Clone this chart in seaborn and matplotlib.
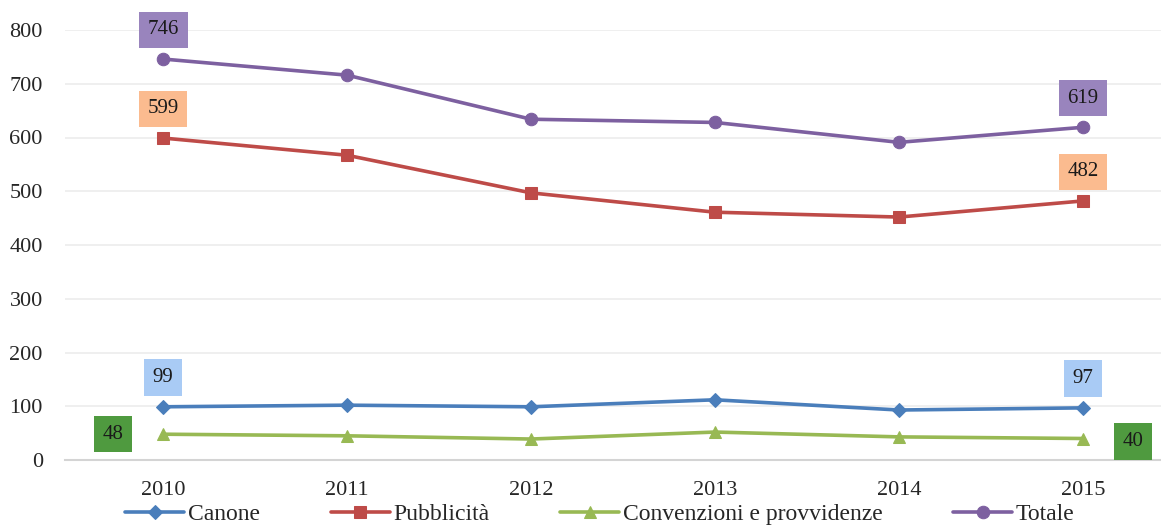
import matplotlib
matplotlib.use("Agg")
import matplotlib.pyplot as plt
import seaborn as sns
import pandas as pd

years = [2010, 2011, 2012, 2013, 2014, 2015]
canone = [99, 102, 99, 112, 93, 97]
pubblicita = [599, 567, 497, 461, 452, 482]
convenzioni = [48, 45, 39, 52, 43, 40]
totale = [746, 716, 634, 628, 591, 619]
series_names = ["Canone", "Pubblicità", "Convenzioni e provvidenze", "Totale"]

sns.set_style("white")
plt.rcParams["font.family"] = ["Liberation Serif", "DejaVu Serif"]

df = pd.DataFrame({"anno": years * 4,
                   "valore": canone + pubblicita + convenzioni + totale,
                   "serie": [s for s in series_names for _ in years]})

colors = ["#4a7ebb", "#be4b48", "#98b954", "#7d60a0"]
markers = ["D", "s", "^", "o"]
msizes = [7, 8, 9, 9]

fig = plt.figure(figsize=(11.61, 5.26), dpi=100)
ax = fig.add_axes([65 / 1161, 66 / 526, 1096 / 1161, 430 / 526])

for name, c, m, ms in zip(series_names, colors, markers, msizes):
    sub = df[df["serie"] == name]
    sns.lineplot(data=sub, x="anno", y="valore", ax=ax, color=c, marker=m,
                 markersize=ms, markeredgecolor=c, linewidth=2.6, label=name)

ax.set_xlim(2009.467, 2015.424)
ax.set_ylim(0, 800)
ax.set_yticks(range(0, 801, 100))
ax.set_xticks(years)
ax.set_xlabel("")
ax.set_ylabel("")
ax.grid(axis="y", color="#ececec", linewidth=1.2)
for s in ["top", "right", "left"]:
    ax.spines[s].set_visible(False)
ax.spines["bottom"].set_color("#d4d4d4")
ax.spines["bottom"].set_linewidth(1.5)
ax.tick_params(axis="both", length=0, labelsize=16)
ax.tick_params(axis="x", pad=15)
ax.tick_params(axis="y", pad=16)
ax.set_axisbelow(True)

# data labels: first and last year of each series
box_colors = {"Canone": "#a9cbf5", "Pubblicità": "#fbbb8f",
              "Convenzioni e provvidenze": "#4f9a3f", "Totale": "#9984bd"}
vals = {"Canone": canone, "Pubblicità": pubblicita,
        "Convenzioni e provvidenze": convenzioni, "Totale": totale}
for name in series_names:
    v = vals[name]
    for i in [0, -1]:
        if name == "Convenzioni e provvidenze":
            o = (-36, 0) if i == 0 else (36, -2)
        else:
            o = (0, 21)
        ax.annotate(str(v[i]), (years[i], v[i]), xytext=o,
                    textcoords="offset points", ha="center", va="center",
                    fontsize=15, color="#1a1a1a", annotation_clip=False,
                    bbox=dict(boxstyle="square,pad=0.42", fc=box_colors[name], ec="none"))

ax.legend_.remove()
handles, labels = ax.get_legend_handles_labels()
fig.legend(handles, labels, loc="center", bbox_to_anchor=(600 / 1161, 1 - 514 / 526),
           ncol=4, frameon=False, fontsize=17, handlelength=2.5,
           handletextpad=0.15, columnspacing=3.0, borderaxespad=0, borderpad=0)

fig.savefig("out.png", dpi=100)
